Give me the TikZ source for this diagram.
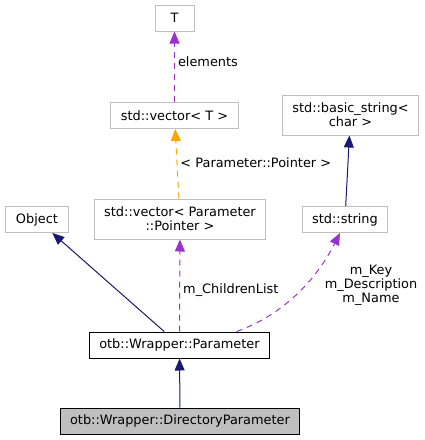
\documentclass[tikz,border=0pt]{standalone}
\usepackage{fontspec}
\setmainfont{DejaVu Sans}
\usetikzlibrary{arrows.meta}
\definecolor{navy}{HTML}{191970}
\definecolor{usepurple}{HTML}{9A32CD}
\definecolor{tmplorange}{HTML}{FFA500}
\definecolor{boxgray}{HTML}{BFBFBF}

\begin{document}
\begin{tikzpicture}
  [x=1pt,y=-1pt,font=\fontsize{12.9}{14}\selectfont,
   every node/.style={rectangle,draw=boxgray,line width=1pt,inner xsep=10pt,inner ysep=1pt,minimum height=26pt,minimum width=39pt,align=center},
   twoline/.style={minimum height=40pt},
   lbl/.style={draw=none,text=black,inner xsep=3pt,inner ysep=1pt,minimum height=0pt,minimum width=0pt},
   inh/.style={navy,line width=1pt,-{Triangle[length=12pt,width=10pt]}},
   usage/.style={usepurple,line width=1pt,dash pattern=on 6pt off 5pt,-{Triangle[length=12pt,width=10pt]}},
   tmpl/.style={tmplorange,line width=1pt,dash pattern=on 6pt off 5pt,-{Triangle[length=12pt,width=10pt]}}]
  \useasboundingbox (0,0) rectangle (425,440);

  \node (tt) at (174.5,18) {T};
  \node (vect) at (174.5,115.5) {std::vector< T >};
  \node[twoline] (bstr) at (350.5,115) {std::basic\_string<\\char >};
  \node (object) at (37,219.5) {Object};
  \node[twoline] (vecparam) at (180,219) {std::vector< Parameter\\::Pointer >};
  \node (stdstr) at (345,219.5) {std::string};
  \node[draw=black] (param) at (179.5,345) {otb::Wrapper::Parameter};
  \node[draw=black,fill=boxgray] (dirparam) at (180,421) {otb::Wrapper::DirectoryParameter};

  \foreach \from/\to in {dirparam/param,param/object,stdstr/bstr}
    \draw[inh] (\from) -- (\to);

  \draw[usage] (vect) -- node[lbl,right,pos=0.57] (lelem) {elements} (tt);
  \draw[tmpl] (vecparam) -- node[lbl,right,pos=0.52] (lptr) {< Parameter::Pointer >} (vect);
  \draw[usage] (param) -- node[lbl,right,pos=0.45] (lchild) {m\_ChildrenList} (vecparam);
  \draw[usage] ([xshift=57pt]param.north) .. controls (275,318) and (312,288) .. ([xshift=-5pt]stdstr.south);
  \node[lbl] (lkey) at (371,285) {m\_Key\\m\_Description\\m\_Name};

\end{tikzpicture}
\end{document}
